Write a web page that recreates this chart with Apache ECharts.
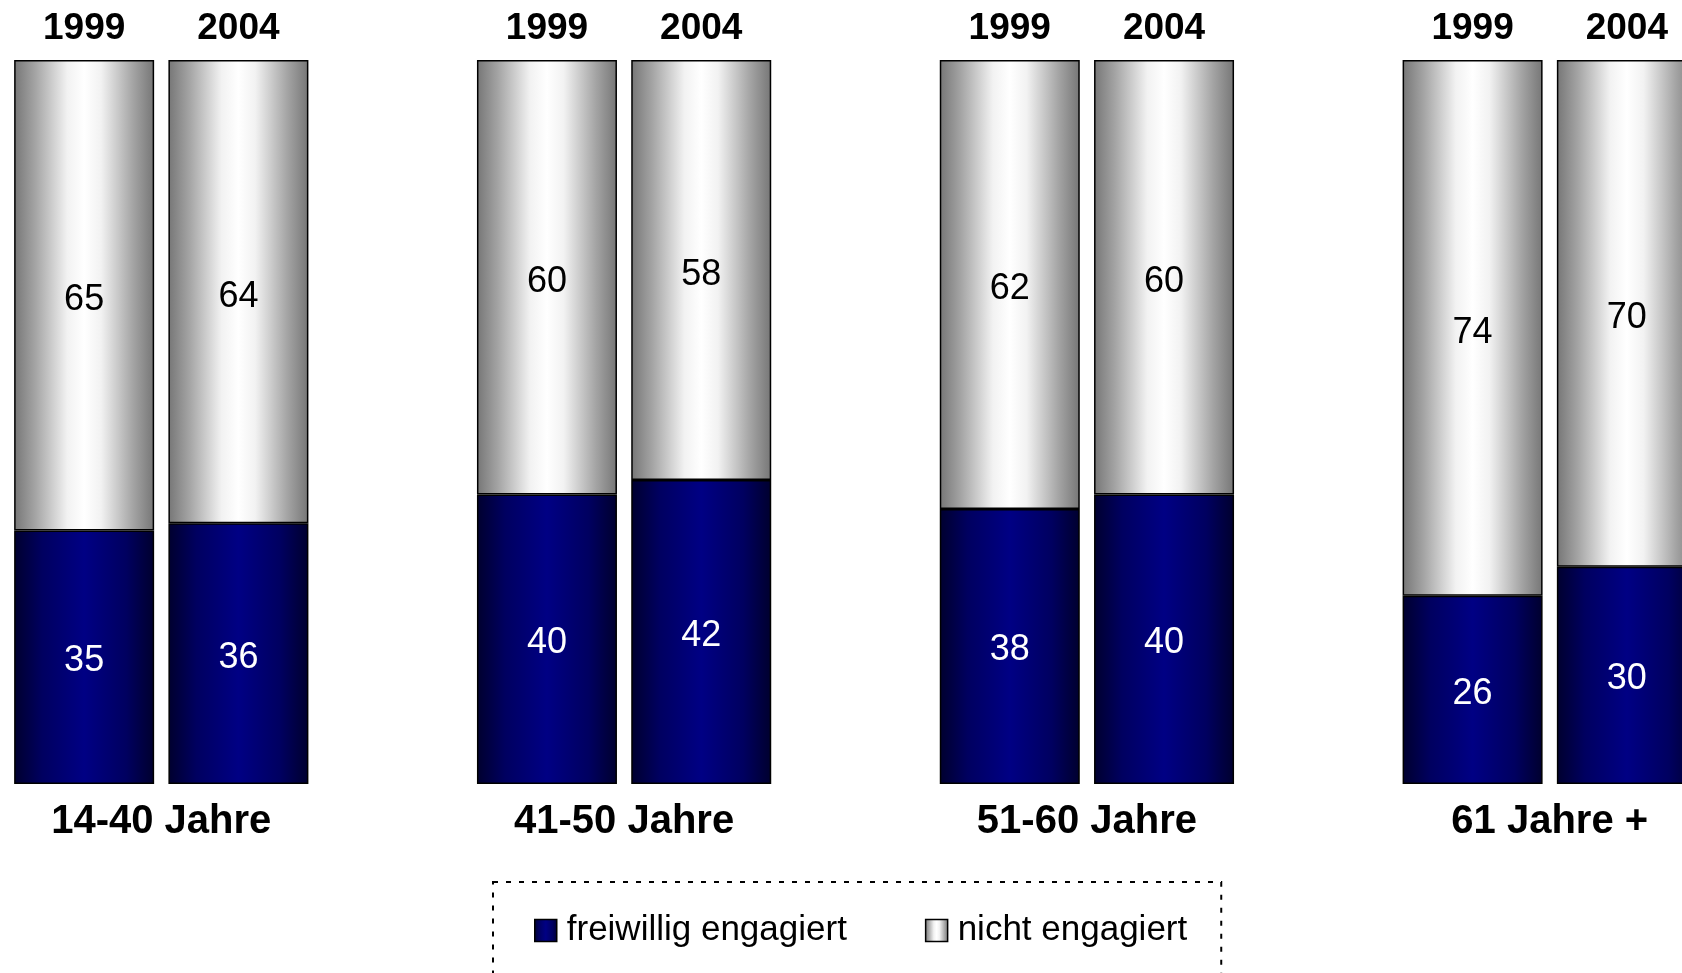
<!DOCTYPE html>
<html>
<head>
<meta charset="utf-8">
<title>Freiwilliges Engagement nach Altersgruppen</title>
<script src="https://cdn.jsdelivr.net/npm/echarts@6/dist/echarts.min.js"></script>
<style>
  html, body { margin: 0; padding: 0; background: #fff; }
  #chart { width: 1682px; height: 973px; }
</style>
</head>
<body>
<div id="chart"></div>
<script>
// Age groups and survey years
const groups = ['14-40 Jahre', '41-50 Jahre', '51-60 Jahre', '61 Jahre +'];
const years = ['1999', '2004'];

// Share of people (in %) per group, one entry per age group
const engaged1999 = [35, 40, 38, 26];
const engaged2004 = [36, 42, 40, 30];
const notEngaged1999 = [65, 60, 62, 74];
const notEngaged2004 = [64, 58, 60, 70];

const seriesNames = ['freiwillig engagiert', 'nicht engagiert'];

// Build the slot layout: two bars per group, one empty slot between groups
const slotKeys = [];
const slotYears = [];
const engagedSlots = [];
const notEngagedSlots = [];
groups.forEach((g, gi) => {
  years.forEach((y, yi) => {
    slotKeys.push(g + '|' + y);
    slotYears.push(y);
    engagedSlots.push(yi === 0 ? engaged1999[gi] : engaged2004[gi]);
    notEngagedSlots.push(yi === 0 ? notEngaged1999[gi] : notEngaged2004[gi]);
  });
  if (gi < groups.length - 1) {
    slotKeys.push('gap' + gi);
    slotYears.push('');
    engagedSlots.push('-');
    notEngagedSlots.push('-');
  }
});
// Group label positions: midway between the two bars of each group
const groupCenters = groups.map((g, gi) => gi * 3 + 0.5);

const FONT = '"Liberation Sans", Arial, Helvetica, sans-serif';

const blueFill = new echarts.graphic.LinearGradient(0, 0, 1, 0, [
  { offset: 0, color: '#00002e' },
  { offset: 0.2, color: '#000060' },
  { offset: 0.5, color: '#000084' },
  { offset: 0.8, color: '#000060' },
  { offset: 1, color: '#00002e' }
]);
const grayFill = new echarts.graphic.LinearGradient(0, 0, 1, 0, [
  { offset: 0, color: '#767676' },
  { offset: 0.15, color: '#a4a4a4' },
  { offset: 0.38, color: '#f2f2f2' },
  { offset: 0.5, color: '#ffffff' },
  { offset: 0.62, color: '#f2f2f2' },
  { offset: 0.85, color: '#a4a4a4' },
  { offset: 1, color: '#767676' }
]);

const chart = echarts.init(document.getElementById('chart'), null, { renderer: 'canvas' });

chart.setOption({
  animation: false,
  backgroundColor: '#ffffff',
  // The last bar runs past the right edge of the canvas
  grid: {
    left: 7, width: 1697, top: 60, height: 724,
    containLabel: false,
    outerBoundsMode: 'none'
  },
  legend: {
    data: seriesNames,
    icon: 'rect',
    left: 493,
    top: 882,
    orient: 'horizontal',
    itemWidth: 22,
    itemHeight: 22,
    itemGap: 78,
    padding: [31, 34, 52, 41],
    borderColor: '#000',
    borderWidth: 2,
    borderType: [5, 8],
    selectedMode: false,
    itemStyle: { borderColor: '#000', borderWidth: 1.5 },
    textStyle: {
      fontFamily: FONT,
      fontSize: 35,
      color: '#000',
      padding: [0, 0, 0, 5]
    }
  },
  xAxis: [
    {
      type: 'category',
      position: 'top',
      data: slotKeys,
      axisLine: { show: false },
      axisTick: { show: false },
      axisLabel: {
        interval: 0,
        margin: 13,
        fontFamily: FONT,
        fontSize: 37,
        fontWeight: 'bold',
        color: '#000',
        formatter: (v, i) => slotYears[i]
      }
    },
    {
      type: 'value',
      position: 'bottom',
      min: -0.5,
      max: 10.5,
      axisLine: { show: false },
      axisTick: { show: false },
      splitLine: { show: false },
      axisLabel: {
        customValues: groupCenters,
        margin: 18,
        fontFamily: FONT,
        fontSize: 40,
        fontWeight: 'bold',
        color: '#000',
        formatter: (v) => {
          const idx = groupCenters.findIndex(c => Math.abs(c - v) < 1e-6);
          return idx >= 0 ? groups[idx] : '';
        }
      }
    }
  ],
  yAxis: {
    type: 'value',
    min: 0,
    max: 100,
    show: false,
    splitLine: { show: false }
  },
  series: [
    {
      name: seriesNames[0],
      type: 'bar',
      stack: 'total',
      xAxisIndex: 0,
      barWidth: 140,
      data: engagedSlots,
      itemStyle: { color: blueFill, borderColor: '#000', borderWidth: 1.5 },
      label: {
        show: true,
        position: 'inside',
        offset: [0, 4],
        fontFamily: FONT,
        fontSize: 36,
        color: '#fff'
      }
    },
    {
      name: seriesNames[1],
      type: 'bar',
      stack: 'total',
      xAxisIndex: 0,
      barWidth: 140,
      data: notEngagedSlots,
      itemStyle: { color: grayFill, borderColor: '#000', borderWidth: 1.5 },
      label: {
        show: true,
        position: 'inside',
        offset: [0, 5],
        fontFamily: FONT,
        fontSize: 36,
        color: '#000'
      }
    }
  ]
});
</script>
</body>
</html>
